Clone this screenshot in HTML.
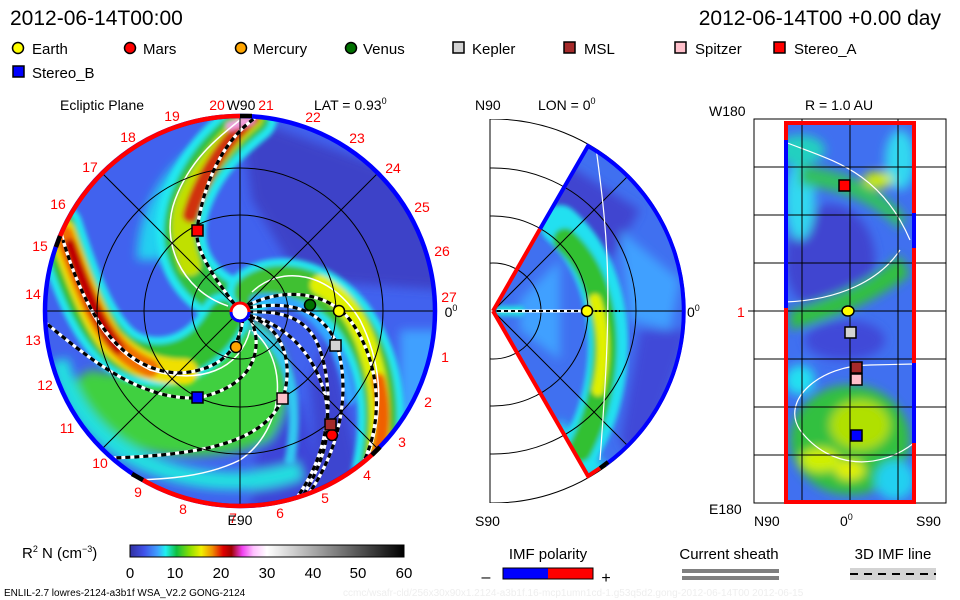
<!DOCTYPE html>
<html><head><meta charset="utf-8"><style>
html,body{margin:0;padding:0;background:#fff;}
svg{display:block;font-family:"Liberation Sans",sans-serif;}
</style></head><body>
<svg width="960" height="600" viewBox="0 0 960 600" xmlns="http://www.w3.org/2000/svg">
<defs>
<filter id="b6" x="-20%" y="-20%" width="140%" height="140%"><feGaussianBlur stdDeviation="5"/></filter>
<filter id="b3" x="-20%" y="-20%" width="140%" height="140%"><feGaussianBlur stdDeviation="2.5"/></filter>
<clipPath id="disc"><circle cx="240" cy="311" r="195"/></clipPath>
<clipPath id="wedge"><path d="M493,311 L588,146 A190,190 0 0,1 588,476 Z"/></clipPath>
<clipPath id="rbox"><rect x="785" y="123" width="129" height="379"/></clipPath>
<clipPath id="mbox"><rect x="490" y="119" width="260" height="384"/></clipPath>
<linearGradient id="cb" x1="0" x2="1" y1="0" y2="0">
<stop offset="0" stop-color="#3030a0"/><stop offset="0.05" stop-color="#4050e8"/><stop offset="0.1" stop-color="#40a0ff"/>
<stop offset="0.13" stop-color="#20f0f0"/><stop offset="0.17" stop-color="#10c040"/><stop offset="0.22" stop-color="#90e000"/>
<stop offset="0.26" stop-color="#f0f000"/><stop offset="0.3" stop-color="#f09000"/><stop offset="0.34" stop-color="#e00000"/>
<stop offset="0.37" stop-color="#a00000"/><stop offset="0.41" stop-color="#f040f0"/><stop offset="0.45" stop-color="#ffc0ff"/>
<stop offset="0.5" stop-color="#ffffff"/><stop offset="1" stop-color="#000000"/>
</linearGradient>
</defs>

<text x="10" y="25" font-size="21" fill="#000">2012-06-14T00:00</text>
<text x="941" y="25" font-size="21" fill="#000" text-anchor="end">2012-06-14T00 +0.00 day</text>

<g font-size="15" fill="#000" stroke="#000" stroke-width="1.5">
<circle cx="18" cy="48" r="5.5" fill="#ffff00"/>
<circle cx="130" cy="48" r="5.5" fill="#ff0000"/>
<circle cx="241" cy="48" r="5.5" fill="#ffa500"/>
<circle cx="351" cy="48" r="5.5" fill="#007000"/>
<rect x="453" y="42" width="11" height="11" fill="#d3d3d3"/>
<rect x="564" y="42" width="11" height="11" fill="#a52a2a"/>
<rect x="675" y="42" width="11" height="11" fill="#ffc0cb"/>
<rect x="774" y="42" width="11" height="11" fill="#ff0000"/>
<rect x="13" y="66" width="11" height="11" fill="#0000ff"/>
</g>
<g font-size="15" fill="#000">
<text x="32" y="54">Earth</text><text x="143" y="54">Mars</text><text x="253" y="54">Mercury</text>
<text x="363" y="54">Venus</text><text x="472" y="54">Kepler</text><text x="584" y="54">MSL</text>
<text x="695" y="54">Spitzer</text><text x="794" y="54">Stereo_A</text><text x="32" y="78">Stereo_B</text>
</g>

<text x="60" y="110" font-size="14">Ecliptic Plane</text>
<text x="314" y="110" font-size="14">LAT = 0.93<tspan font-size="9" dy="-6">0</tspan></text>
<g clip-path="url(#disc)">
<circle cx="240" cy="311" r="195" fill="#4162ee"/>
<g filter="url(#b6)">
<path d="M240,115 L445,190 L445,290 L300,280 L252,200 Z" fill="#3c42c8"/>
<path d="M300,400 L330,510 L250,510 L260,420 Z" fill="#3d45d8"/>
<path d="M330,330 L360,470 L320,500 L310,380 Z" fill="#3d45d0"/>
<path d="M60,390 C100,460 200,470 270,440 C300,400 290,340 255,320 C220,350 150,385 90,370 Z" fill="#40d040"/>
<path d="M60,360 C80,470 220,500 300,470" fill="none" stroke="#20e0e0" stroke-width="18"/>
<path d="M150,260 C150,220 170,180 200,160" fill="none" stroke="#20d0f0" stroke-width="26"/>
<path d="M400,330 L440,330 L430,420 L400,420 Z" fill="#40a0ff"/>
</g>
<g fill="none" stroke-linecap="round" filter="url(#b3)">
<path d="M225,300 C185,280 172,240 187,200 S225,140 252,118" stroke="#20e8f0" stroke-width="50"/>
<path d="M225,300 C185,280 172,240 187,200 S225,140 252,118" stroke="#30c040" stroke-width="34"/>
<path d="M190,265 C180,235 180,215 190,195 S225,140 252,118" stroke="#c0e000" stroke-width="22"/>
<path d="M190,215 C200,180 225,140 252,118" stroke="#d03010" stroke-width="15"/>
<path d="M230,126 L250,120" stroke="#f0a0e0" stroke-width="9"/>
<path d="M225,318 C200,365 150,372 120,350 C95,330 78,290 58,228" stroke="#20e8f0" stroke-width="50"/>
<path d="M225,318 C200,365 150,372 120,350 C95,330 78,290 58,228" stroke="#30c030" stroke-width="36"/>
<path d="M185,372 C150,372 130,360 110,340 C95,320 80,285 62,232" stroke="#f0e000" stroke-width="26"/>
<path d="M150,368 C130,360 115,345 105,330 C92,310 80,280 64,235" stroke="#f07000" stroke-width="19"/>
<path d="M118,348 C100,325 85,290 70,245" stroke="#c00000" stroke-width="12"/>
<path d="M250,292 C275,272 320,280 350,318 C375,352 390,400 375,470" stroke="#20e8f0" stroke-width="46"/>
<path d="M250,292 C275,272 320,280 350,318 C375,352 390,400 375,470" stroke="#40c030" stroke-width="32"/>
<path d="M320,285 C340,295 355,315 365,340 C378,375 385,410 375,470" stroke="#e0f000" stroke-width="20"/>
<path d="M378,380 C385,410 384,440 372,472" stroke="#f06000" stroke-width="14"/>
<path d="M255,300 C300,290 340,330 350,400" stroke="#30a8ff" stroke-width="10"/>
<path d="M255,330 C290,350 300,400 290,460" stroke="#30c8f0" stroke-width="10"/>
</g>
<g fill="none" stroke="#fff" stroke-width="1.5">
<path d="M228,306 C180,290 160,240 175,200 S215,140 240,120"/>
<path d="M60,226 C80,300 100,345 150,370 C200,385 240,370 250,330"/>
<path d="M252,292 C280,265 330,270 360,320 C385,370 385,420 360,480"/>
<path d="M252,330 C290,360 285,430 240,460 C200,480 150,480 110,480"/>
</g>
<g fill="none" stroke-width="3.2">
<g stroke="#fff">
<path d="M240,311 C215,280 195,250 197,231 S210,150 255,118"/>
<path d="M243,318 C240,345 225,370 180,373 C130,372 90,330 63,240"/>
<path d="M250,318 C262,340 262,385 197,398 C140,400 90,360 40,318"/>
<path d="M250,317 C280,325 295,360 283,398 C265,440 210,455 110,458"/>
<path d="M248,305 C290,285 330,295 350,320 C380,360 385,420 362,465"/>
<path d="M248,308 C290,300 320,310 335,340 C350,380 345,440 310,492"/>
<path d="M248,312 C285,310 310,320 320,350 C335,395 330,450 298,496"/>
<path d="M248,315 C290,325 318,360 326,400 C333,440 318,470 303,496"/>
</g>
<g stroke="#000" stroke-dasharray="5,4">
<path d="M240,311 C215,280 195,250 197,231 S210,150 255,118"/>
<path d="M243,318 C240,345 225,370 180,373 C130,372 90,330 63,240"/>
<path d="M250,318 C262,340 262,385 197,398 C140,400 90,360 40,318"/>
<path d="M250,317 C280,325 295,360 283,398 C265,440 210,455 110,458"/>
<path d="M248,305 C290,285 330,295 350,320 C380,360 385,420 362,465"/>
<path d="M248,308 C290,300 320,310 335,340 C350,380 345,440 310,492"/>
<path d="M248,312 C285,310 310,320 320,350 C335,395 330,450 298,496"/>
<path d="M248,315 C290,325 318,360 326,400 C333,440 318,470 303,496"/>
</g>
</g>
<g fill="none" stroke="#000" stroke-width="1">
<circle cx="240" cy="311" r="48"/><circle cx="240" cy="311" r="96"/><circle cx="240" cy="311" r="143"/>
<line x1="40" y1="311" x2="440" y2="311"/><line x1="240" y1="110" x2="240" y2="510"/>
<line x1="102" y1="173" x2="378" y2="449"/><line x1="102" y1="449" x2="378" y2="173"/>
</g>
</g>
<g fill="none" stroke-width="4.5">
<circle cx="240" cy="311" r="195" stroke="#0000ff"/>
<path d="M240,116 A195,195 0 0,0 56,247" stroke="#ff0000"/>
<path d="M143,480 A195,195 0 0,0 378,449" stroke="#ff0000"/>
<path d="M56,247 L60,236" stroke="#000"/><path d="M132,474 L143,480" stroke="#000"/>
<path d="M372,455 L380,447" stroke="#000"/><path d="M240,116 L252,116" stroke="#000"/>
</g>
<circle cx="240" cy="312" r="9" fill="#fff" stroke="#ff0000" stroke-width="3"/>
<path d="M249,312 A9,9 0 0,1 231,312" fill="none" stroke="#0000ff" stroke-width="3"/>
<g stroke="#000" stroke-width="1.5">
<circle cx="310" cy="305" r="5.5" fill="#007000"/>
<circle cx="339" cy="311" r="5.5" fill="#ffff00"/>
<circle cx="236" cy="347" r="5.5" fill="#ffa500"/>
<circle cx="332" cy="435" r="5.5" fill="#ff0000"/>
<rect x="330" y="340" width="11" height="11" fill="#d3d3d3"/>
<rect x="325" y="419" width="11" height="11" fill="#a52a2a"/>
<rect x="277" y="393" width="11" height="11" fill="#ffc0cb"/>
<rect x="192" y="225" width="11" height="11" fill="#ff0000"/>
<rect x="192" y="392" width="11" height="11" fill="#0000ff"/>
</g>
<g font-size="14" fill="#ff0000" text-anchor="middle">
<text x="217" y="110">20</text><text x="266" y="110">21</text><text x="313" y="122">22</text>
<text x="357" y="143">23</text><text x="393" y="173">24</text><text x="422" y="212">25</text>
<text x="442" y="256">26</text><text x="449" y="302">27</text><text x="445" y="362">1</text>
<text x="428" y="407">2</text><text x="402" y="447">3</text><text x="367" y="480">4</text>
<text x="325" y="503">5</text><text x="280" y="518">6</text><text x="233" y="523">7</text>
<text x="183" y="514">8</text><text x="138" y="497">9</text><text x="100" y="468">10</text>
<text x="67" y="433">11</text><text x="45" y="390">12</text><text x="33" y="345">13</text>
<text x="33" y="299">14</text><text x="40" y="251">15</text><text x="58" y="209">16</text>
<text x="90" y="172">17</text><text x="128" y="142">18</text><text x="172" y="121">19</text>
</g>
<g font-size="14" fill="#000" text-anchor="middle">
<text x="241" y="110">W90</text><text x="240" y="525">E90</text>
<text x="451" y="317">0<tspan font-size="9" dy="-6">0</tspan></text>
</g>

<text x="475" y="110" font-size="14">N90</text>
<text x="538" y="110" font-size="14">LON = 0<tspan font-size="9" dy="-6">0</tspan></text>
<text x="475" y="526" font-size="14">S90</text>
<text x="687" y="317" font-size="14">0<tspan font-size="9" dy="-6">0</tspan></text>
<g clip-path="url(#wedge)">
<rect x="480" y="130" width="220" height="360" fill="#4070f0"/>
<g filter="url(#b6)">
<path d="M560,160 L640,210 L610,260 L540,230 Z" fill="#3f45d0"/>
<path d="M640,330 L690,330 L640,470 L620,440 Z" fill="#3f48d8"/>
<path d="M620,230 L680,280 L670,330 L630,320 Z" fill="#40a0ff"/>
<path d="M520,300 L560,260 L560,360 L520,330 Z" fill="#40a0ff"/>
<path d="M560,420 L610,470 L590,480 L550,440 Z" fill="#20e0f0"/>
</g>
<g fill="none" filter="url(#b3)" stroke-linecap="round">
<path d="M560,225 C600,260 615,320 605,380 C598,420 585,445 570,460" stroke="#20e0f0" stroke-width="40"/>
<path d="M565,240 C598,270 610,320 603,375 C598,410 590,430 580,450" stroke="#30c030" stroke-width="24"/>
<path d="M595,300 C605,330 605,360 598,390" stroke="#e0f000" stroke-width="12"/>
<path d="M500,311 L520,311" stroke="#20e0e0" stroke-width="10"/>
</g>
</g>
<g fill="none" stroke="#000" stroke-width="1" clip-path="url(#mbox)">
<circle cx="493" cy="311" r="48"/><circle cx="493" cy="311" r="95"/><circle cx="493" cy="311" r="143"/><circle cx="493" cy="311" r="192"/>
<line x1="493" y1="311" x2="683" y2="311"/>
<line x1="493" y1="311" x2="629" y2="175"/><line x1="493" y1="311" x2="629" y2="447"/>
</g>
<line x1="490" y1="119" x2="490" y2="503" stroke="#000"/>
<path d="M596,148 C610,250 612,300 600,460" fill="none" stroke="#fff" stroke-width="1.2" clip-path="url(#wedge)"/>
<line x1="497" y1="311" x2="587" y2="311" stroke="#fff" stroke-width="3"/>
<line x1="497" y1="311" x2="587" y2="311" stroke="#000" stroke-width="2" stroke-dasharray="4,3"/>
<line x1="595" y1="311" x2="620" y2="311" stroke="#000" stroke-width="2" stroke-dasharray="2,2"/>
<g fill="none" stroke-width="4">
<path d="M493,311 L540,229" stroke="#ff0000"/>
<path d="M540,229 L588,146 A190,190 0 0,1 605,465" stroke="#0000ff"/>
<path d="M493,311 L588,476 L600,468" stroke="#ff0000"/>
<path d="M600,468 L608,462" stroke="#000"/>
</g>
<circle cx="587" cy="311" r="5.5" fill="#ffff00" stroke="#000" stroke-width="1.5"/>

<text x="805" y="110" font-size="14">R = 1.0 AU</text>
<text x="709" y="116" font-size="14">W180</text>
<text x="709" y="514" font-size="14">E180</text>
<text x="737" y="317" font-size="14" fill="#ff0000">1</text>
<text x="754" y="526" font-size="14">N90</text>
<text x="840" y="526" font-size="14">0<tspan font-size="9" dy="-6">0</tspan></text>
<text x="916" y="526" font-size="14">S90</text>
<rect x="754" y="119" width="192" height="384" fill="none" stroke="#000"/>
<g clip-path="url(#rbox)">
<rect x="785" y="123" width="129" height="379" fill="#4070f0"/>
<g filter="url(#b6)">
<ellipse cx="830" cy="260" rx="45" ry="55" fill="#3f45d0"/>
<ellipse cx="845" cy="340" rx="40" ry="20" fill="#3f48d8"/>
<ellipse cx="800" cy="200" rx="15" ry="40" fill="#30d8f0"/>
<ellipse cx="900" cy="160" rx="15" ry="30" fill="#30d8f0"/>
<ellipse cx="800" cy="150" rx="25" ry="15" fill="#20d0c0"/>
<path d="M790,310 C820,300 860,290 900,255 L910,275 C870,305 830,320 790,330 Z" fill="#30c040"/>
<path d="M800,165 C840,170 870,180 905,215 L900,230 C870,200 840,190 800,185 Z" fill="#30c060"/>
<ellipse cx="878" cy="180" rx="15" ry="8" fill="#d0f000"/>
<ellipse cx="850" cy="440" rx="60" ry="55" fill="#30c040"/>
<ellipse cx="860" cy="425" rx="30" ry="25" fill="#b0e000"/>
<ellipse cx="820" cy="460" rx="20" ry="12" fill="#d0f000"/>
<ellipse cx="850" cy="470" rx="15" ry="10" fill="#e0f000"/>
<ellipse cx="895" cy="480" rx="20" ry="20" fill="#20d0f0"/>
<ellipse cx="800" cy="380" rx="15" ry="15" fill="#20e0f0"/>
</g>
<g fill="none" stroke="#fff" stroke-width="1.2">
<path d="M785,142 C830,160 880,170 910,240"/>
<path d="M785,302 C840,300 880,280 900,250"/>
<path d="M870,365 C820,365 780,400 800,430 C830,470 880,470 914,443"/>
<path d="M870,365 L914,364"/>
</g>
</g>
<g stroke="#000" stroke-width="1">
<line x1="802" y1="119" x2="802" y2="503"/><line x1="850" y1="119" x2="850" y2="503"/><line x1="898" y1="119" x2="898" y2="503"/>
<line x1="754" y1="167" x2="946" y2="167"/><line x1="754" y1="215" x2="946" y2="215"/><line x1="754" y1="263" x2="946" y2="263"/>
<line x1="748" y1="311" x2="946" y2="311"/><line x1="754" y1="359" x2="946" y2="359"/><line x1="754" y1="407" x2="946" y2="407"/>
<line x1="754" y1="455" x2="946" y2="455"/>
</g>
<g fill="none" stroke-width="4">
<rect x="786" y="123" width="128" height="379" stroke="#ff0000"/>
<line x1="786" y1="140" x2="786" y2="308" stroke="#0000ff"/>
<line x1="914" y1="213" x2="914" y2="248" stroke="#0000ff"/>
<line x1="914" y1="363" x2="914" y2="443" stroke="#0000ff"/>
</g>
<g stroke="#000" stroke-width="1.5">
<ellipse cx="848" cy="311" rx="6" ry="5" fill="#ffff00"/>
<rect x="839" y="180" width="11" height="11" fill="#ff0000"/>
<rect x="845" y="327" width="11" height="11" fill="#d3d3d3"/>
<rect x="851" y="362" width="11" height="11" fill="#a52a2a"/>
<rect x="851" y="374" width="11" height="11" fill="#ffc0cb"/>
<rect x="851" y="430" width="11" height="11" fill="#0000ff"/>
</g>

<text x="22" y="558" font-size="15">R<tspan font-size="9" dy="-6">2</tspan><tspan dy="6"> N (cm</tspan><tspan font-size="9" dy="-6">−3</tspan><tspan dy="6">)</tspan></text>
<rect x="130" y="545" width="274" height="12" fill="url(#cb)" stroke="#000" stroke-width="1"/>
<g font-size="15" text-anchor="middle">
<text x="130" y="578">0</text><text x="175" y="578">10</text><text x="221" y="578">20</text><text x="267" y="578">30</text>
<text x="313" y="578">40</text><text x="358" y="578">50</text><text x="404" y="578">60</text>
</g>
<text x="548" y="559" font-size="15" text-anchor="middle">IMF polarity</text>
<text x="729" y="559" font-size="15" text-anchor="middle">Current sheath</text>
<text x="893" y="559" font-size="15" text-anchor="middle">3D IMF line</text>
<text x="486" y="582" font-size="16" text-anchor="middle">–</text>
<text x="606" y="583" font-size="16" text-anchor="middle">+</text>
<rect x="503" y="568" width="45" height="11" fill="#0000ff"/>
<rect x="548" y="568" width="45" height="11" fill="#ff0000"/>
<rect x="503" y="568" width="90" height="11" fill="none" stroke="#000"/>
<rect x="682" y="569" width="97" height="4" fill="#808080"/>
<rect x="682" y="576" width="97" height="4" fill="#808080"/>
<rect x="850" y="568" width="86" height="12" fill="#d3d3d3"/>
<line x1="850" y1="574" x2="936" y2="574" stroke="#000" stroke-width="2" stroke-dasharray="8,6"/>
<text x="4" y="596" font-size="10">ENLIL-2.7 lowres-2124-a3b1f WSA_V2.2 GONG-2124</text>
<text x="343" y="596" font-size="10" fill="#eeeeee">ccmc/wsafr-cld/256x30x90x1.2124-a3b1f.16-mcp1umn1cd-1.g53q5d2.gong-2012-06-14T00   2012-06-15</text>
</svg>
</body></html>
